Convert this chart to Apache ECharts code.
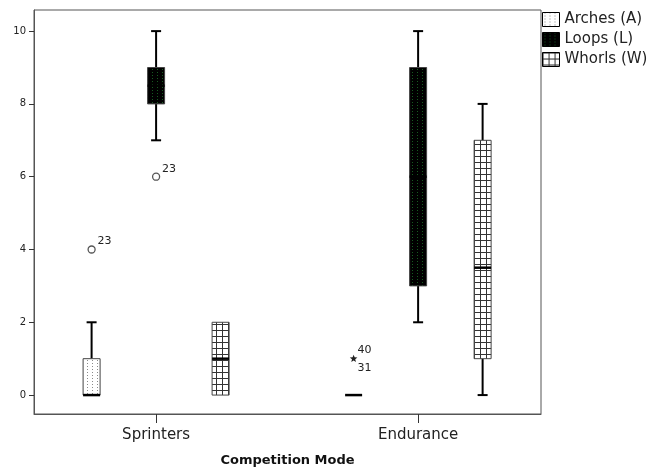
<!DOCTYPE html>
<html>
<head>
<meta charset="utf-8">
<script src="https://cdn.jsdelivr.net/npm/echarts@6/dist/echarts.min.js"></script>
<style>html,body{margin:0;padding:0;background:#fff;}#c{width:651px;height:468px;}</style>
</head>
<body>
<div id="c"></div>
<script>
// ---- data ----
const categories = ['Sprinters', 'Endurance'];
const seriesNames = ['Arches (A)', 'Loops (L)', 'Whorls (W)'];
// [min, Q1, median, Q3, max] per category
const archesBox = [[0, 0, 0, 1, 2], [0, 0, 0, 0, 0]];
const loopsBox  = [[7, 8, 8.5, 9, 10], [2, 3, 6, 9, 10]];
const whorlsBox = [[0, 0, 1, 2, 2], [0, 1, 3.5, 7, 8]];
// outliers: [categoryIndex, value]
const archesOut = [[0, 4], [1, 1]];
const archesOutLabels = [['23'], ['40', '31']];
const archesOutExtreme = [false, true];
const loopsOut = [[0, 6]];
const loopsOutLabels = [['23']];
const loopsOutExtreme = [false];
const yTicks = [0, 2, 4, 6, 8, 10];

// ---- patterns ----
function pat(w, h, draw) {
  const c = document.createElement('canvas');
  c.width = w; c.height = h;
  const g = c.getContext('2d');
  draw(g);
  return { image: c, repeat: 'repeat' };
}
const archesPat = pat(5, 3, g => { g.fillStyle = '#fff'; g.fillRect(0,0,5,3); g.fillStyle = '#8a8a8a'; g.fillRect(2,0,1,1); });
const loopsPat = pat(5, 3, g => { g.fillStyle = '#000'; g.fillRect(0,0,5,3); g.fillStyle = '#175a20'; g.fillRect(2,0,1,1); });
const whorlsPat = pat(6, 6, g => { g.fillStyle = '#fff'; g.fillRect(0,0,6,6); g.fillStyle = '#333'; g.fillRect(0,0,6,1); g.fillRect(0,0,1,6); });
const patterns = [archesPat, loopsPat, whorlsPat];

const OFFSETS = [-64.5, 0, 64.5];
const BOX_W = 17, CAP_W = 10;

function boxRenderer(offset, pattern) {
  return function (params, api) {
    const ci = api.value(0);
    const mn = api.value(1), q1 = api.value(2), md = api.value(3), q3 = api.value(4), mx = api.value(5);
    const cx = api.coord([ci, 0])[0] + offset;
    const y = v => api.coord([ci, v])[1];
    const hw = BOX_W / 2, cw = CAP_W / 2;
    const ln = { stroke: '#000', lineWidth: 2 };
    const ch = [];
    if (mn < q1) {
      ch.push({ type: 'line', shape: { x1: cx, y1: y(mn), x2: cx, y2: y(q1) }, style: ln });
      ch.push({ type: 'line', shape: { x1: cx - cw, y1: y(mn), x2: cx + cw, y2: y(mn) }, style: ln });
    }
    if (mx > q3) {
      ch.push({ type: 'line', shape: { x1: cx, y1: y(q3), x2: cx, y2: y(mx) }, style: ln });
      ch.push({ type: 'line', shape: { x1: cx - cw, y1: y(mx), x2: cx + cw, y2: y(mx) }, style: ln });
    }
    if (q3 > q1) {
      ch.push({ type: 'rect', shape: { x: cx - hw, y: y(q3), width: BOX_W, height: y(q1) - y(q3) },
        style: { fill: pattern, stroke: '#444', lineWidth: 1 } });
    }
    ch.push({ type: 'line', shape: { x1: cx - hw, y1: y(md), x2: cx + hw, y2: y(md) }, style: { stroke: '#000', lineWidth: 2.5 } });
    return { type: 'group', children: ch };
  };
}

function outRenderer(offset, labels, extreme) {
  return function (params, api) {
    const ci = api.value(0), v = api.value(1);
    const p = api.coord([ci, v]);
    const cx = p[0] + offset, cy = p[1];
    const ch = [];
    const lab = labels[params.dataIndex];
    const ts = { fill: '#222', fontSize: 11, fontFamily: 'DejaVu Sans' };
    if (extreme[params.dataIndex]) {
      const pts = [];
      for (let i = 0; i < 10; i++) {
        const r = i % 2 === 0 ? 4 : 1.7;
        const a = -Math.PI / 2 + i * Math.PI / 5;
        pts.push([cx + r * Math.cos(a), cy + r * Math.sin(a)]);
      }
      ch.push({ type: 'polygon', shape: { points: pts }, style: { fill: '#222' } });
      ch.push({ type: 'text', style: Object.assign({ x: cx + 4, y: cy - 9, text: lab[0], verticalAlign: 'middle' }, ts) });
      ch.push({ type: 'text', style: Object.assign({ x: cx + 4, y: cy + 9, text: lab[1], verticalAlign: 'middle' }, ts) });
    } else {
      ch.push({ type: 'circle', shape: { cx: cx, cy: cy, r: 3.5 }, style: { fill: '#fff', stroke: '#555', lineWidth: 1.3 } });
      ch.push({ type: 'text', style: Object.assign({ x: cx + 6, y: cy - 8, text: lab[0], verticalAlign: 'middle' }, ts) });
    }
    return { type: 'group', children: ch };
  };
}

const boxSets = [archesBox, loopsBox, whorlsBox];
const series = [];
boxSets.forEach((set, k) => {
  series.push({
    name: seriesNames[k], type: 'custom',
    itemStyle: { color: patterns[k], borderColor: '#000', borderWidth: 1 },
    renderItem: boxRenderer(OFFSETS[k], patterns[k]),
    encode: { x: 0, y: [1, 2, 3, 4, 5] },
    data: set.map((b, i) => [i].concat(b)),
    z: 2
  });
});
series.push({
  name: seriesNames[0] + ' outliers', type: 'custom',
  renderItem: outRenderer(OFFSETS[0], archesOutLabels, archesOutExtreme),
  encode: { x: 0, y: 1 }, data: archesOut, z: 3
});
series.push({
  name: seriesNames[1] + ' outliers', type: 'custom',
  renderItem: outRenderer(OFFSETS[1], loopsOutLabels, loopsOutExtreme),
  encode: { x: 0, y: 1 }, data: loopsOut, z: 3
});

const chart = echarts.init(document.getElementById('c'), null, { renderer: 'canvas' });
chart.setOption({
  animation: false,
  backgroundColor: '#fff',
  textStyle: { fontFamily: 'DejaVu Sans' },
  grid: { left: 34, right: 110, top: 10, bottom: 54, show: true, borderColor: '#555', borderWidth: 1, containLabel: false, outerBoundsMode: 'none' },
  legend: {
    orient: 'vertical', left: 542, top: 12, itemWidth: 17, itemHeight: 14, itemGap: 5,
    icon: 'rect', padding: 0,
    textStyle: { fontSize: 15, color: '#222', fontFamily: 'DejaVu Sans' },
    data: seriesNames.map((n, k) => ({ name: n, itemStyle: { color: patterns[k], borderColor: '#000', borderWidth: 1 } })),
    selectedMode: false
  },
  xAxis: {
    type: 'value', min: -0.466, max: 1.469,
    name: 'Competition Mode', nameLocation: 'middle', nameGap: 40,
    nameTextStyle: { fontWeight: 'bold', fontSize: 13, color: '#111', fontFamily: 'DejaVu Sans' },
    axisLine: { show: true, onZero: false, lineStyle: { color: '#555', width: 1 } },
    axisTick: { show: true, customValues: [0, 1], length: 9, lineStyle: { color: '#333', width: 1 } },
    axisLabel: { customValues: [0, 1], formatter: v => categories[v], fontSize: 15, color: '#222', margin: 14 },
    splitLine: { show: false }
  },
  yAxis: {
    type: 'value', min: -0.52, max: 10.58,
    axisLine: { show: true, onZero: false, lineStyle: { color: '#555', width: 1 } },
    axisTick: { show: true, customValues: yTicks, length: 5, lineStyle: { color: '#333' } },
    axisLabel: { customValues: yTicks, fontSize: 10, color: '#222', margin: 8 },
    splitLine: { show: false }
  },
  series: series
});
</script>
</body>
</html>
